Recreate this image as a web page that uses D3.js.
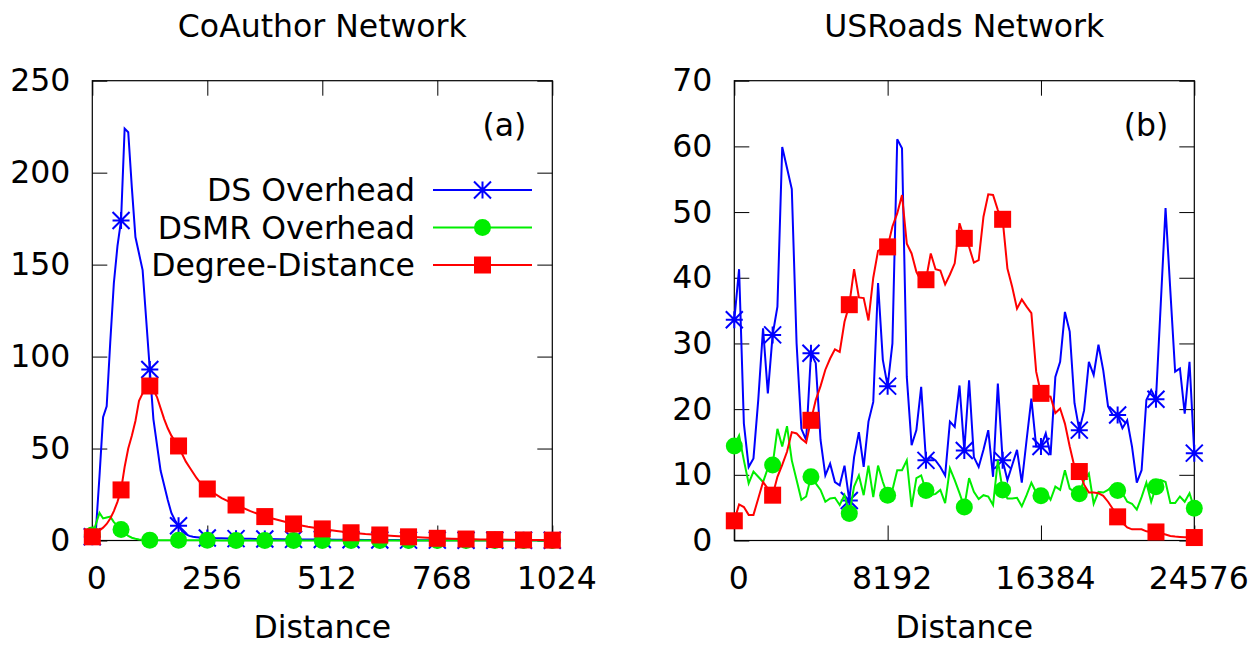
<!DOCTYPE html>
<html>
<head>
<meta charset="utf-8">
<script src="https://cdn.jsdelivr.net/npm/d3@7"></script>
<style>
  body { margin: 0; background: #fff; }
  svg text { font-family: 'DejaVu Sans', sans-serif; font-size: 31.5px; fill: #000; }
</style>
</head>
<body>
<svg id="chart" width="1252" height="645"></svg>
<script>
// CoAuthor network (a)
const coDist = [0, 8, 16, 24, 32, 40, 48, 56, 64, 72, 80, 88, 96, 104, 112, 120, 128,
  136, 144, 152, 160, 168, 176, 184, 192, 200, 208, 216, 224, 232, 240, 248, 256,
  288, 320, 352, 384, 416, 448, 480, 512, 544, 576, 608, 640, 672, 704, 736, 768,
  800, 832, 864, 896, 928, 960, 992, 1024];
const coDS = [2, 5.5, 35, 67, 73, 108, 140, 160, 174, 224, 222, 192, 165, 156, 147, 120, 93,
  66, 52, 38, 30, 22, 15, 11, 8, 5, 3.5, 2.5, 2, 1.8, 1.6, 1.5, 1.4,
  1.2, 1.0, 0.9, 0.8, 0.7, 0.6, 0.5, 0.5, 0.4, 0.4, 0.3, 0.3, 0.3, 0.2, 0.2, 0.2,
  0.2, 0.1, 0.1, 0.1, 0.1, 0.1, 0.1, 0.1];
const coDSMR = [3, 9, 15, 12, 12.5, 13, 10, 8, 6, 4, 2.5, 1.5, 1, 0.6, 0.4, 0.3, 0.2,
  0.1, 0.1, 0.1, 0.1, 0.1, 0.1, 0.1, 0.1, 0.1, 0.1, 0.1, 0.1, 0.1, 0.1, 0.1, 0.1,
  0, 0, 0, 0, 0, 0, 0, 0, 0, 0, 0, 0, 0, 0, 0, 0,
  0, 0, 0, 0, 0, 0, 0, 0];
const coDeg = [2, 4, 5.5, 7, 9, 12, 16, 21, 27.5, 40, 50, 57, 65, 76, 80, 84, 84,
  82, 78, 72, 66, 61, 57, 54, 51.4, 47, 43, 40, 37, 34, 31.5, 29.5, 28,
  23, 19.3, 16, 13, 11, 9, 7.5, 6.3, 5.2, 4.2, 3.5, 3, 2.5, 2, 1.6, 1.2,
  1, 0.8, 0.6, 0.5, 0.4, 0.3, 0.25, 0.2];
const coXTicks = [0, 256, 512, 768, 1024];
const coYTicks = [0, 50, 100, 150, 200, 250];

// USRoads network (b)
const usDist = [0, 256, 512, 768, 1024, 1280, 1536, 1792, 2048, 2304, 2560, 2816,
  3072, 3328, 3584, 3840, 4096, 4352, 4608, 4864, 5120, 5376, 5632, 5888,
  6144, 6400, 6656, 6912, 7168, 7424, 7680, 7936, 8192, 8448, 8704, 8960,
  9216, 9472, 9728, 9984, 10240, 10496, 10752, 11008, 11264, 11520, 11776, 12032,
  12288, 12544, 12800, 13056, 13312, 13568, 13824, 14080, 14336, 14592, 14848, 15104,
  15360, 15616, 15872, 16128, 16384, 16640, 16896, 17152, 17408, 17664, 17920, 18176,
  18432, 18688, 18944, 19200, 19456, 19712, 19968, 20224, 20480, 20736, 20992, 21248,
  21504, 21760, 22016, 22272, 22528, 22784, 23040, 23296, 23552, 23808, 24064, 24320,
  24576];
const usDS = [33.6, 41.3, 17.8, 11.2, 12.5, 21.4, 32.3, 22.4,
  31.3, 35.6, 59.9, 56.7, 53.5, 30, 17, 15.3,
  28.5, 27, 15.3, 9.9, 11.7, 8.9, 8.4, 11.4,
  6.1, 12.7, 16.5, 11.2, 18.1, 21.1, 39.2, 27.5,
  23.5, 30, 61.1, 59.7, 24.9, 14.5, 16.8, 23.4,
  12.2, 12.7, 12.2, 11.2, 9.9, 18.1, 17.3, 23.6,
  13.7, 24.4, 12.7, 11.2, 13.8, 16.8, 9.7, 23.9,
  12.2, 9.2, 11.5, 13.8, 8.8, 15.3, 21.6, 14.3,
  14.3, 16.3, 13.0, 24.9, 27.2, 34.8, 31.8, 20.9,
  16.8, 19.8, 27.2, 25.2, 29.8, 25.9, 20.4, 19.1,
  19.1, 17.1, 18.3, 14.3, 8.8, 10.7, 21.4, 22.9,
  21.5, 36, 50.6, 38, 25.7, 26.2, 19.3, 27.2,
  13.3];
const usDSMR = [14.4, 16.0, 12.2, 8.7, 10.5, 9.7, 8.9, 11.0,
  11.5, 17.0, 14.3, 17.4, 12.2, 9.2, 6.2, 6.7,
  9.7, 8.7, 7.7, 5.9, 6.4, 6.5, 5.4, 6.9,
  4.1, 8.2, 9.9, 6.9, 11.4, 6.6, 11.4, 8.9,
  6.9, 7.7, 10.7, 10.7, 12.2, 5.1, 9.5, 9.9,
  7.6, 6.9, 7.1, 7.7, 5.7, 11.0, 9.2, 7.2,
  5.1, 9.5, 7.4, 6.3, 6.9, 6.7, 5.4, 12.2,
  7.7, 6.4, 6.4, 6.5, 5.2, 6.9, 8.8, 7.3,
  6.8, 7.4, 6.2, 8.2, 7.7, 10.7, 7.9, 7.4,
  7.1, 9.2, 10.2, 5.6, 7.4, 7.3, 7.7, 8.4,
  7.6, 7.2, 5.9, 5.6, 4.7, 6.6, 8.8, 5.9,
  8.2, 9.2, 8.9, 5.7, 5.7, 6.7, 5.9, 7.2,
  4.9];
const usDeg = [3.0, 5.5, 5.1, 3.9, 3.9, 6.4, 8.9, 7.9,
  6.9, 9.7, 11.5, 13.5, 16.5, 16.3, 15.5, 14.9,
  18.3, 21.4, 23.5, 26.0, 27.7, 29.1, 28.7, 33.3,
  35.9, 41.3, 37.0, 36.9, 33.5, 40.0, 44.1, 44.5,
  44.7, 47.8, 49.8, 52.6, 45.2, 43.7, 40.9, 39.5,
  39.7, 43.7, 41.3, 41.1, 39.0, 40.5, 42.2, 48.3,
  46.0, 44.7, 42.3, 42.7, 49.3, 52.7, 52.6, 50.3,
  48.9, 41.4, 38.6, 35.3, 36.7, 35.6, 34.6, 25.7,
  22.4, 22.0, 21.9, 19.4, 20.1, 17.8, 14.3, 11.2,
  10.5, 8.5, 7.3, 7.3, 7.2, 6.8, 5.9, 4.8,
  3.6, 2.7, 2.0, 1.7, 1.7, 1.7, 1.4, 1.3,
  1.3, 1.1, 0.9, 0.7, 0.6, 0.55, 0.5, 0.5,
  0.45];
const usXTicks = [0, 8192, 16384, 24576];
const usYTicks = [0, 10, 20, 30, 40, 50, 60, 70];

const seriesNames = ['DS Overhead', 'DSMR Overhead', 'Degree-Distance'];
const seriesColors = ['#0000ff', '#00ee00', '#ff0000'];
const seriesShapes = ['star', 'circle', 'square'];

const svg = d3.select('#chart');
const plotTop = 80.7, plotBottom = 540.5, tickLen = 15, msize = 17;

function marker(g, shape, color, x, y) {
  const h = msize / 2;
  if (shape === 'star') {
    g.append('path')
      .attr('d', `M${x - h},${y}L${x + h},${y}M${x},${y - h}L${x},${y + h}` +
        `M${x - h},${y - h}L${x + h},${y + h}M${x - h},${y + h}L${x + h},${y - h}`)
      .attr('stroke', color).attr('stroke-width', 2).attr('fill', 'none');
  } else if (shape === 'circle') {
    g.append('circle').attr('cx', x).attr('cy', y).attr('r', h).attr('fill', color);
  } else {
    g.append('rect').attr('x', x - h).attr('y', y - h)
      .attr('width', msize).attr('height', msize).attr('fill', color);
  }
}

function panel(p) {
  const g = svg.append('g');
  const x = d3.scaleLinear().domain(p.xDomain).range([p.left, p.right]);
  const y = d3.scaleLinear().domain(p.yDomain).range([plotBottom, plotTop]);

  g.append('g').attr('transform', `translate(${p.left},0)`)
    .call(d3.axisLeft(y).tickValues(p.yTicks).tickSize(-tickLen).tickPadding(22))
    .call(a => a.select('.domain').remove());
  g.append('g').attr('transform', `translate(${p.right},0)`)
    .call(d3.axisRight(y).tickValues(p.yTicks).tickSize(-tickLen).tickFormat(''))
    .call(a => a.select('.domain').remove());
  g.append('g').attr('transform', `translate(0,${plotBottom})`)
    .call(d3.axisBottom(x).tickValues(p.xTicks).tickSize(-tickLen).tickPadding(26).tickFormat(d3.format('d')))
    .call(a => a.select('.domain').remove())
    .selectAll('text').attr('dx', 4);
  g.append('g').attr('transform', `translate(0,${plotTop})`)
    .call(d3.axisTop(x).tickValues(p.xTicks).tickSize(-tickLen).tickFormat(''))
    .call(a => a.select('.domain').remove());
  g.selectAll('.tick line').attr('stroke', '#000');
  g.selectAll('.tick text').style('font-size', '31.5px').style('font-family', 'DejaVu Sans');

  g.append('rect').attr('x', p.left).attr('y', plotTop)
    .attr('width', p.right - p.left).attr('height', plotBottom - plotTop)
    .attr('fill', 'none').attr('stroke', '#000').attr('stroke-width', 1.2);

  g.append('text').attr('x', (p.left + p.right) / 2).attr('y', 37)
    .attr('text-anchor', 'middle').text(p.title);
  g.append('text').attr('x', (p.left + p.right) / 2).attr('y', 638)
    .attr('text-anchor', 'middle').text('Distance');
  g.append('text').attr('x', p.right - 26).attr('y', 136)
    .attr('text-anchor', 'end').text(p.tag);

  p.series.forEach((vals, k) => {
    const line = d3.line().x((d, i) => x(p.dist[i])).y(d => y(d));
    g.append('path').datum(vals).attr('d', line)
      .attr('fill', 'none').attr('stroke', seriesColors[k]).attr('stroke-width', 2)
      .attr('stroke-linejoin', 'miter');
    vals.forEach((v, i) => {
      if (p.dist[i] % p.markEvery === 0) marker(g, seriesShapes[k], seriesColors[k], x(p.dist[i]), y(v));
    });
    if (p.legend) {
      const ly = 190 + k * 37.5;
      g.append('text').attr('x', 415).attr('y', ly + 11).attr('text-anchor', 'end').text(seriesNames[k]);
      g.append('line').attr('x1', 433).attr('x2', 532).attr('y1', ly).attr('y2', ly)
        .attr('stroke', seriesColors[k]).attr('stroke-width', 2);
      marker(g, seriesShapes[k], seriesColors[k], 482.5, ly);
    }
  });
}

panel({
  left: 92.3, right: 552.3, xDomain: [0, 1024], yDomain: [0, 250],
  xTicks: coXTicks, yTicks: coYTicks, title: 'CoAuthor Network', tag: '(a)',
  dist: coDist, series: [coDS, coDSMR, coDeg], markEvery: 64, legend: true
});
panel({
  left: 734.3, right: 1194.3, xDomain: [0, 24576], yDomain: [0, 70],
  xTicks: usXTicks, yTicks: usYTicks, title: 'USRoads Network', tag: '(b)',
  dist: usDist, series: [usDS, usDSMR, usDeg], markEvery: 2048, legend: false
});
</script>
</body>
</html>
